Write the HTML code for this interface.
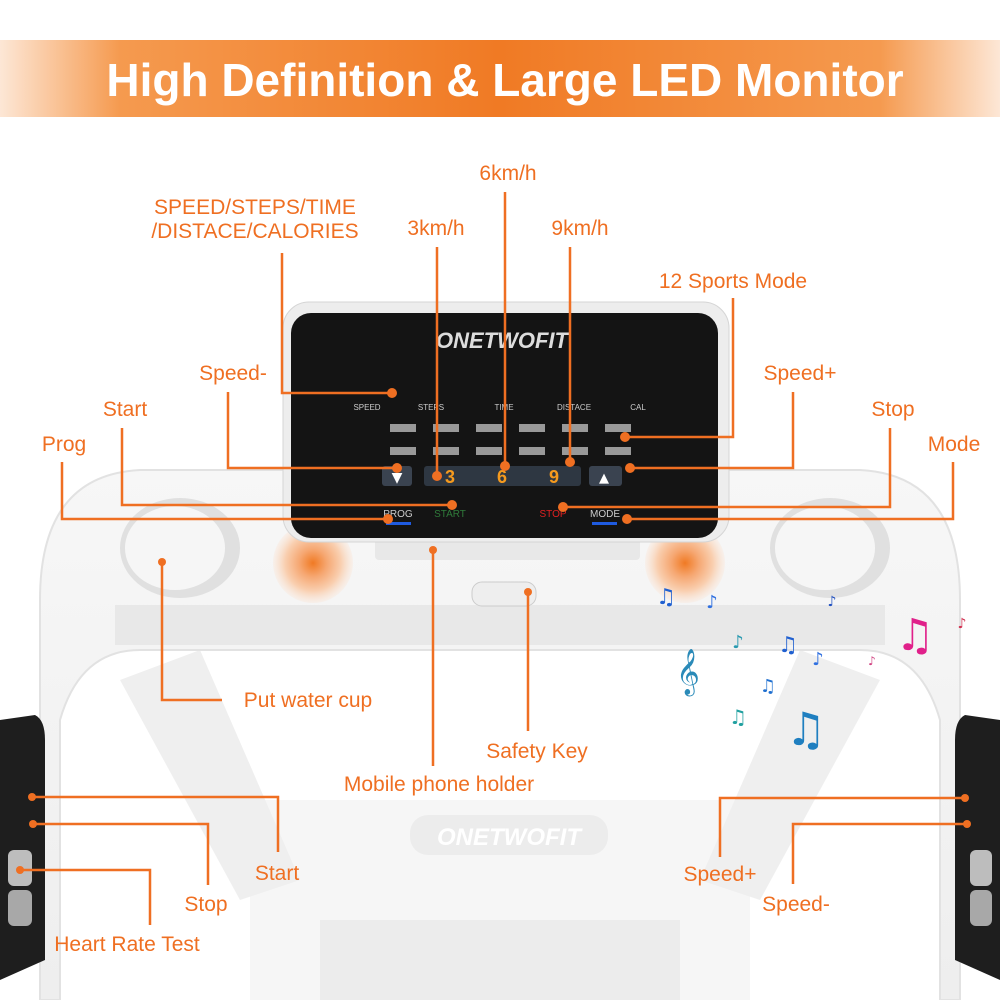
<!DOCTYPE html>
<html><head><meta charset="utf-8"><style>
html,body{margin:0;padding:0;background:#fff}
svg{display:block}
.l{font-family:"Liberation Sans",sans-serif;font-size:21px;fill:#ef6f22;}
</style></head><body>
<svg width="1000" height="1000" viewBox="0 0 1000 1000" xmlns="http://www.w3.org/2000/svg">
<defs>
<linearGradient id="ban" x1="0" x2="1" y1="0" y2="0">
<stop offset="0" stop-color="#fde7d6"/><stop offset="0.12" stop-color="#f59a4f"/><stop offset="0.5" stop-color="#f07a24"/><stop offset="0.88" stop-color="#f59a4f"/><stop offset="1" stop-color="#fde7d6"/>
</linearGradient>
<radialGradient id="glow"><stop offset="0" stop-color="#f07a24"/><stop offset="0.35" stop-color="#f6a873"/><stop offset="0.7" stop-color="#f9cfb0"/><stop offset="1" stop-color="#fbe3d2" stop-opacity="0.3"/></radialGradient>
<linearGradient id="frame" x1="0" x2="0" y1="0" y2="1"><stop offset="0" stop-color="#f7f7f7"/><stop offset="1" stop-color="#eeeeee"/></linearGradient>
</defs>
<rect width="1000" height="1000" fill="#fff"/>
<rect x="0" y="40" width="1000" height="77" fill="url(#ban)"/>
<text x="505" y="96" text-anchor="middle" font-family="Liberation Sans,sans-serif" font-weight="bold" font-size="46" fill="#fff">High Definition &amp; Large LED Monitor</text>

<!-- lower base -->
<rect x="250" y="800" width="500" height="200" fill="#f6f6f6"/>
<rect x="410" y="815" width="198" height="40" rx="18" fill="#ececec"/>
<text x="509" y="845" text-anchor="middle" font-family="Liberation Sans,sans-serif" font-weight="bold" font-style="italic" font-size="24" fill="#fff">ONETWOFIT</text>
<rect x="320" y="920" width="360" height="80" fill="#ececec"/>
<!-- legs -->
<polygon points="120,680 200,650 300,880 240,900" fill="#efefef"/>
<polygon points="880,680 800,650 700,880 760,900" fill="#efefef"/>
<!-- handlebar frame -->
<path d="M40,1000 L40,600 Q40,475 140,470 L860,470 Q960,475 960,600 L960,1000 L940,1000 L940,720 Q920,650 860,650 L140,650 Q80,650 60,720 L60,1000 Z" fill="url(#frame)" stroke="#e2e2e2" stroke-width="2"/>
<rect x="115" y="605" width="770" height="40" fill="#e8e8e8"/>
<!-- cup holders -->
<ellipse cx="180" cy="548" rx="60" ry="50" fill="#e0e0e0"/><ellipse cx="175" cy="548" rx="50" ry="42" fill="#f6f6f6"/>
<ellipse cx="830" cy="548" rx="60" ry="50" fill="#e0e0e0"/><ellipse cx="825" cy="548" rx="50" ry="42" fill="#f6f6f6"/>
<!-- uprights -->
<path d="M0,720 L35,715 Q45,720 45,740 L45,960 L0,980 Z" fill="#1e1e1e"/>
<path d="M1000,720 L965,715 Q955,720 955,740 L955,960 L1000,980 Z" fill="#1e1e1e"/>
<rect x="8" y="850" width="24" height="36" rx="6" fill="#bdbdbd"/><rect x="8" y="890" width="24" height="36" rx="6" fill="#a8a8a8"/>
<rect x="970" y="850" width="22" height="36" rx="6" fill="#bdbdbd"/><rect x="970" y="890" width="22" height="36" rx="6" fill="#a8a8a8"/>
<!-- phone holder / safety key -->
<rect x="375" y="538" width="265" height="22" rx="4" fill="#e8e8e8"/>
<rect x="472" y="582" width="64" height="24" rx="10" fill="#eee" stroke="#ccc"/>
<!-- speakers -->
<circle cx="313" cy="563" r="40" fill="url(#glow)"/>
<circle cx="685" cy="563" r="40" fill="url(#glow)"/>
<!-- console -->
<rect x="283" y="302" width="446" height="240" rx="26" fill="#ededed" stroke="#d5d5d5"/>
<rect x="291" y="313" width="427" height="225" rx="20" fill="#141414"/>
<text x="502" y="348" text-anchor="middle" font-family="Liberation Sans,sans-serif" font-weight="bold" font-style="italic" font-size="22" fill="#ddd">ONETWOFIT</text>
<g font-family="Liberation Sans,sans-serif" font-size="8" fill="#ccc" text-anchor="middle">
<text x="367" y="410">SPEED</text><text x="431" y="410">STEPS</text><text x="504" y="410">TIME</text><text x="574" y="410">DISTACE</text><text x="638" y="410">CAL</text>
</g>
<g fill="#999"><rect x="390" y="424" width="26" height="8"/><rect x="433" y="424" width="26" height="8"/><rect x="476" y="424" width="26" height="8"/><rect x="519" y="424" width="26" height="8"/><rect x="562" y="424" width="26" height="8"/><rect x="605" y="424" width="26" height="8"/>
<rect x="390" y="447" width="26" height="8"/><rect x="433" y="447" width="26" height="8"/><rect x="476" y="447" width="26" height="8"/><rect x="519" y="447" width="26" height="8"/><rect x="562" y="447" width="26" height="8"/><rect x="605" y="447" width="26" height="8"/></g>
<rect x="382" y="466" width="30" height="20" rx="3" fill="#3a4350"/><text x="397" y="482" text-anchor="middle" fill="#fff" font-size="14" font-family="DejaVu Sans">▼</text>
<rect x="424" y="466" width="157" height="20" rx="3" fill="#2e3742"/>
<g font-family="Liberation Sans,sans-serif" font-weight="bold" font-size="18" fill="#f59a1e" text-anchor="middle"><text x="450" y="483">3</text><text x="502" y="483">6</text><text x="554" y="483">9</text></g>
<rect x="589" y="466" width="33" height="20" rx="3" fill="#3a4350"/><text x="604" y="482" text-anchor="middle" fill="#fff" font-size="13" font-family="DejaVu Sans">▲</text>
<g font-family="Liberation Sans,sans-serif" font-size="10" text-anchor="middle"><text x="398" y="517" fill="#ccc">PROG</text><text x="450" y="517" fill="#2f7a3a">START</text><text x="553" y="517" fill="#e02020">STOP</text><text x="605" y="517" fill="#ccc">MODE</text></g>
<rect x="386" y="522" width="25" height="3" fill="#1f5be0"/><rect x="592" y="522" width="25" height="3" fill="#1f5be0"/>
<!-- music notes -->
<g font-family="DejaVu Sans" text-anchor="middle">
<text x="666" y="604" font-size="22" fill="#2060d0">♫</text><text x="712" y="608" font-size="18" fill="#3070e0">♪</text><text x="832" y="606" font-size="14" fill="#2050c0">♪</text>
<text x="915" y="650" font-size="44" fill="#e0208a">♫</text><text x="962" y="628" font-size="14" fill="#d03050">♪</text>
<text x="688" y="685" font-size="40" fill="#2a8ab8">𝄞</text><text x="738" y="648" font-size="18" fill="#2a9ab0">♪</text><text x="788" y="652" font-size="22" fill="#2060d0">♫</text><text x="818" y="665" font-size="18" fill="#3070e0">♪</text><text x="872" y="665" font-size="12" fill="#d04080">♪</text>
<text x="768" y="692" font-size="18" fill="#2070d0">♫</text><text x="738" y="724" font-size="20" fill="#20a0a0">♫</text><text x="806" y="745" font-size="46" fill="#1f7fc0">♫</text>
</g>
<!-- connectors -->
<g stroke="#ef6f22" stroke-width="2.5" fill="none">
<polyline points="282,253 282,393 392,393"/>
<polyline points="505,192 505,466"/>
<polyline points="437,247 437,476"/>
<polyline points="570,247 570,462"/>
<polyline points="733,298 733,437 625,437"/>
<polyline points="228,392 228,468 397,468"/>
<polyline points="793,392 793,468 630,468"/>
<polyline points="122,428 122,505 452,505"/>
<polyline points="890,428 890,507 563,507"/>
<polyline points="62,462 62,519 388,519"/>
<polyline points="953,462 953,519 627,519"/>
<polyline points="162,562 162,700 222,700"/>
<polyline points="528,592 528,731"/>
<polyline points="433,550 433,766"/>
<polyline points="32,797 278,797 278,852"/>
<polyline points="33,824 208,824 208,885"/>
<polyline points="20,870 150,870 150,925"/>
<polyline points="965,798 720,798 720,857"/>
<polyline points="967,824 793,824 793,884"/>
</g>
<g fill="#ef6f22">
<circle cx="392" cy="393" r="5"/><circle cx="505" cy="466" r="5"/><circle cx="437" cy="476" r="5"/><circle cx="570" cy="462" r="5"/><circle cx="625" cy="437" r="5"/><circle cx="397" cy="468" r="5"/><circle cx="630" cy="468" r="5"/><circle cx="452" cy="505" r="5"/><circle cx="563" cy="507" r="5"/><circle cx="388" cy="519" r="5"/><circle cx="627" cy="519" r="5"/><circle cx="162" cy="562" r="4"/><circle cx="528" cy="592" r="4"/><circle cx="433" cy="550" r="4"/><circle cx="32" cy="797" r="4"/><circle cx="33" cy="824" r="4"/><circle cx="20" cy="870" r="4"/><circle cx="965" cy="798" r="4"/><circle cx="967" cy="824" r="4"/>
</g>
<!-- labels -->
<g class="l" text-anchor="middle">
<text class="l" x="255" y="214">SPEED/STEPS/TIME</text><text class="l" x="255" y="238">/DISTACE/CALORIES</text>
<text class="l" x="508" y="180">6km/h</text><text class="l" x="436" y="235">3km/h</text><text class="l" x="580" y="235">9km/h</text>
<text class="l" x="733" y="288">12 Sports Mode</text>
<text class="l" x="233" y="380">Speed-</text><text class="l" x="800" y="380">Speed+</text>
<text class="l" x="125" y="416">Start</text><text class="l" x="893" y="416">Stop</text>
<text class="l" x="64" y="451">Prog</text><text class="l" x="954" y="451">Mode</text>
<text class="l" x="308" y="707">Put water cup</text><text class="l" x="537" y="758">Safety Key</text><text class="l" x="439" y="791">Mobile phone holder</text>
<text class="l" x="277" y="880">Start</text><text class="l" x="206" y="911">Stop</text><text class="l" x="127" y="951">Heart Rate Test</text>
<text class="l" x="720" y="881">Speed+</text><text class="l" x="796" y="911">Speed-</text>
</g>
</svg>
</body></html>
